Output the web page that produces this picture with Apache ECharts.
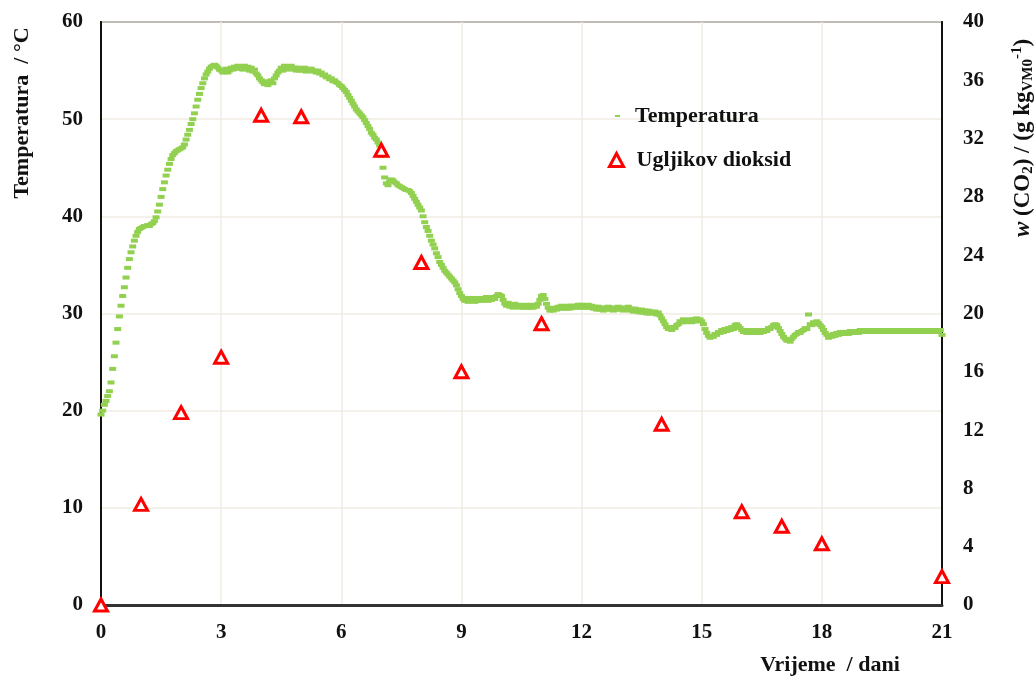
<!DOCTYPE html>
<html>
<head>
<meta charset="utf-8">
<script src="https://cdn.jsdelivr.net/npm/echarts@6/dist/echarts.min.js"></script>
<style>
  html, body { margin: 0; padding: 0; background: #fff; }
  #chart { width: 1035px; height: 677px; }
</style>
</head>
<body>
<div id="chart"></div>
<script>
// Composting run: pile temperature (hourly log) and CO2 release (daily samples)

// Temperature, °C, one reading per hour from day 0 to day 21
const temperature = [
  // day 0
  19.6,20.0,20.6,21.0,21.5,22.0,22.9,24.3,25.6,27.0,28.4,29.7,30.8,31.8,32.7,33.7,34.7,35.6,36.3,36.9,37.5,38.0,38.4,38.7,
  // day 1
  38.8,38.9,39.0,39.0,39.1,39.0,39.2,39.3,39.5,39.9,40.5,41.2,42.0,42.8,43.5,44.2,44.8,45.4,45.9,46.3,46.5,46.7,46.8,46.9,
  // day 2
  47.0,47.1,47.4,47.9,48.4,48.9,49.5,50.0,50.6,51.3,52.0,52.6,53.2,53.7,54.2,54.6,54.9,55.2,55.4,55.5,55.6,55.5,55.3,55.1,
  // day 3
  55.0,54.8,54.9,55.2,54.8,55.0,55.3,55.1,55.4,55.2,55.5,55.2,55.4,55.1,55.5,55.2,55.4,55.0,55.3,54.9,55.1,54.7,54.5,54.2,
  // day 4
  54.0,53.8,53.6,53.9,53.5,53.8,54.0,53.7,54.2,54.5,54.8,55.0,55.3,55.0,55.5,55.2,55.4,55.1,55.5,55.2,55.3,55.0,55.3,55.0,
  // day 5
  55.2,55.0,55.3,54.9,55.1,55.0,55.2,54.9,55.0,54.8,55.0,54.7,54.8,54.5,54.6,54.3,54.4,54.1,54.2,53.9,54.0,53.8,53.7,53.5,
  // day 6
  53.4,53.2,53.0,52.8,52.5,52.2,51.9,51.6,51.3,51.0,50.8,50.6,50.4,50.2,49.9,49.6,49.3,49.0,48.6,48.4,48.1,47.9,47.6,47.3,
  // day 7
  46.2,45.0,44.0,43.4,43.2,43.6,43.8,43.7,43.5,43.4,43.2,43.1,43.0,42.9,42.8,42.7,42.7,42.6,42.4,42.1,41.8,41.5,41.2,40.9,
  // day 8
  40.6,40.0,39.4,38.9,38.5,38.0,37.5,37.1,36.7,36.2,35.8,35.3,35.0,34.7,34.4,34.2,34.0,33.8,33.6,33.4,33.2,32.9,32.5,32.1,
  // day 9
  31.8,31.5,31.3,31.6,31.2,31.5,31.3,31.6,31.2,31.5,31.3,31.6,31.3,31.5,31.4,31.7,31.3,31.6,31.4,31.7,31.5,31.8,32.0,31.9,
  // day 10
  31.8,31.4,31.0,30.8,31.1,30.7,30.9,30.6,31.0,30.7,30.9,30.6,30.8,30.6,30.9,30.6,30.8,30.6,30.9,30.6,30.8,30.7,31.0,31.4,
  // day 11
  31.8,31.9,31.5,31.0,30.6,30.3,30.5,30.3,30.6,30.4,30.7,30.5,30.8,30.5,30.7,30.5,30.8,30.5,30.8,30.6,30.8,30.6,30.9,30.6,
  // day 12
  30.9,30.6,30.8,30.6,30.9,30.6,30.8,30.5,30.7,30.4,30.7,30.4,30.6,30.3,30.6,30.4,30.7,30.4,30.6,30.3,30.6,30.4,30.7,30.4,
  // day 13
  30.6,30.3,30.6,30.4,30.7,30.3,30.5,30.2,30.5,30.2,30.4,30.1,30.4,30.1,30.3,30.0,30.3,30.0,30.2,30.0,30.2,29.9,30.1,29.8,
  // day 14
  29.5,29.2,28.9,28.6,28.4,28.6,28.3,28.6,28.5,28.8,28.9,29.2,29.1,29.4,29.1,29.3,29.2,29.4,29.1,29.4,29.2,29.5,29.2,29.4,
  // day 15
  29.2,28.9,28.4,28.0,27.7,27.5,27.7,27.6,27.9,27.8,28.1,28.0,28.3,28.1,28.4,28.2,28.5,28.3,28.6,28.4,28.8,28.9,28.7,28.5,
  // day 16
  28.3,28.1,28.2,28.0,28.3,28.0,28.2,28.0,28.3,28.0,28.2,28.0,28.3,28.1,28.3,28.2,28.5,28.4,28.6,28.8,28.9,28.8,28.5,28.2,
  // day 17
  27.9,27.6,27.4,27.2,27.3,27.1,27.4,27.6,27.8,27.9,28.1,28.0,28.2,28.3,28.5,28.4,29.9,28.9,28.8,29.1,28.9,29.2,29.0,28.8,
  // day 18
  28.6,28.3,28.0,27.8,27.5,27.7,27.6,27.9,27.7,28.0,27.8,28.1,27.9,28.1,27.9,28.1,27.9,28.2,28.0,28.2,28.0,28.2,28.0,28.3,
  // day 19
  28.1,28.3,28.1,28.3,28.1,28.3,28.1,28.3,28.1,28.3,28.1,28.3,28.1,28.3,28.1,28.3,28.1,28.3,28.1,28.3,28.1,28.3,28.1,28.3,
  // day 20
  28.1,28.3,28.1,28.3,28.1,28.3,28.1,28.3,28.1,28.3,28.1,28.3,28.1,28.3,28.1,28.3,28.1,28.3,28.1,28.3,28.1,28.3,28.1,28.3,
  // day 21
  27.8
];
const HOURS_PER_DAY = 24;

// CO2 release, g per kg of initial volatile matter
const co2Days   = [0, 1, 2, 3, 4, 5, 7, 8, 9, 11, 14, 16, 17, 18, 21];
const co2Values = [0, 6.9, 13.2, 17.0, 33.6, 33.5, 31.2, 23.5, 16.0, 19.3, 12.4, 6.4, 5.4, 4.2, 1.95];

// Axis ticks
const xTicks     = { min: 0, max: 21, step: 3 };
const tempTicks  = { min: 0, max: 60, step: 10 };
const co2Ticks   = { min: 0, max: 40, step: 4 };

const seriesNames = ['Temperatura', 'Ugljikov dioksid'];

const FONT = '"Liberation Serif", "Times New Roman", serif';
const GREEN = '#92d050';
const RED = '#ff0000';
const GRID_COLOR = '#efede2';

const tempData = temperature.map((t, i) => [i / HOURS_PER_DAY, t]);
const co2Data = co2Days.map((d, i) => [d, co2Values[i]]);

const labelStyle = { fontFamily: FONT, fontWeight: 'bold', fontSize: 21, color: '#111' };
const legendText = { fontFamily: FONT, fontWeight: 'bold', fontSize: 22, color: '#111' };

const chart = echarts.init(document.getElementById('chart'), null, { renderer: 'canvas' });

chart.setOption({
  animation: false,
  backgroundColor: '#fff',
  grid: {
    left: 101, right: 93, top: 22, bottom: 72,
    show: true, borderColor: '#333', borderWidth: 2
  },
  xAxis: {
    type: 'value',
    min: xTicks.min, max: xTicks.max, interval: xTicks.step,
    axisLine: { show: true, onZero: false, lineStyle: { color: '#333', width: 3 } },
    axisTick: { show: false },
    axisLabel: Object.assign({ margin: 17 }, labelStyle),
    splitLine: { show: true, lineStyle: { color: GRID_COLOR, width: 1.5 } }
  },
  yAxis: [
    {
      type: 'value',
      min: tempTicks.min, max: tempTicks.max, interval: tempTicks.step,
      axisLine: { show: true, lineStyle: { color: '#111', width: 2 } },
      axisTick: { show: false },
      axisLabel: Object.assign({ margin: 18 }, labelStyle),
      splitLine: { show: true, lineStyle: { color: GRID_COLOR, width: 1.5 } }
    },
    {
      type: 'value',
      position: 'right',
      min: co2Ticks.min, max: co2Ticks.max, interval: co2Ticks.step,
      axisLine: { show: true, lineStyle: { color: '#111', width: 2 } },
      axisTick: { show: false },
      axisLabel: Object.assign({ margin: 21 }, labelStyle),
      splitLine: { show: false }
    }
  ],
  legend: [
    {
      data: [seriesNames[0]],
      left: 610, top: 100,
      itemWidth: 5, itemHeight: 2,
      textStyle: Object.assign({ padding: [0, 0, 0, 10] }, legendText)
    },
    {
      data: [{
        name: seriesNames[1],
        itemStyle: { color: '#fff', borderColor: RED, borderWidth: 3 }
      }],
      left: 603, top: 144,
      itemWidth: 14, itemHeight: 13,
      textStyle: Object.assign({ padding: [0, 0, 0, 8] }, legendText)
    }
  ],
  series: [
    {
      name: seriesNames[0],
      type: 'scatter',
      yAxisIndex: 0,
      data: tempData,
      symbol: 'rect',
      symbolSize: [7, 4],
      itemStyle: { color: GREEN, opacity: 1 },
      z: 2
    },
    {
      name: seriesNames[1],
      type: 'scatter',
      yAxisIndex: 1,
      data: co2Data,
      symbol: 'triangle',
      symbolSize: [13, 12],
      itemStyle: { color: '#fff', borderColor: RED, borderWidth: 3, opacity: 1 },
      z: 3
    }
  ],
  graphic: [
    {
      type: 'text',
      x: 22, y: 113,
      rotation: Math.PI / 2,
      style: {
        text: 'Temperatura  / °C',
        font: 'bold 22px ' + FONT,
        fill: '#111',
        align: 'center',
        verticalAlign: 'middle'
      }
    },
    {
      type: 'text',
      x: 1023, y: 138,
      rotation: Math.PI / 2,
      style: {
        text: '{i|w} (CO{sub|2}) / (g kg{sub|VM0}{sup|-1})',
        font: 'bold 23px ' + FONT,
        fill: '#111',
        align: 'center',
        verticalAlign: 'middle',
        rich: {
          i: { fontStyle: 'italic', fontWeight: 'bold', fontSize: 23, fontFamily: FONT },
          sub: { fontSize: 15, fontWeight: 'bold', fontFamily: FONT, verticalAlign: 'bottom', padding: [11, 0, 0, 0] },
          sup: { fontSize: 15, fontWeight: 'bold', fontFamily: FONT, verticalAlign: 'top', padding: [0, 0, 11, 0] }
        }
      }
    },
    {
      type: 'text',
      x: 830, y: 665,
      style: {
        text: 'Vrijeme  / dani',
        font: 'bold 22px ' + FONT,
        fill: '#111',
        align: 'center',
        verticalAlign: 'middle'
      }
    }
  ]
});
</script>
</body>
</html>
